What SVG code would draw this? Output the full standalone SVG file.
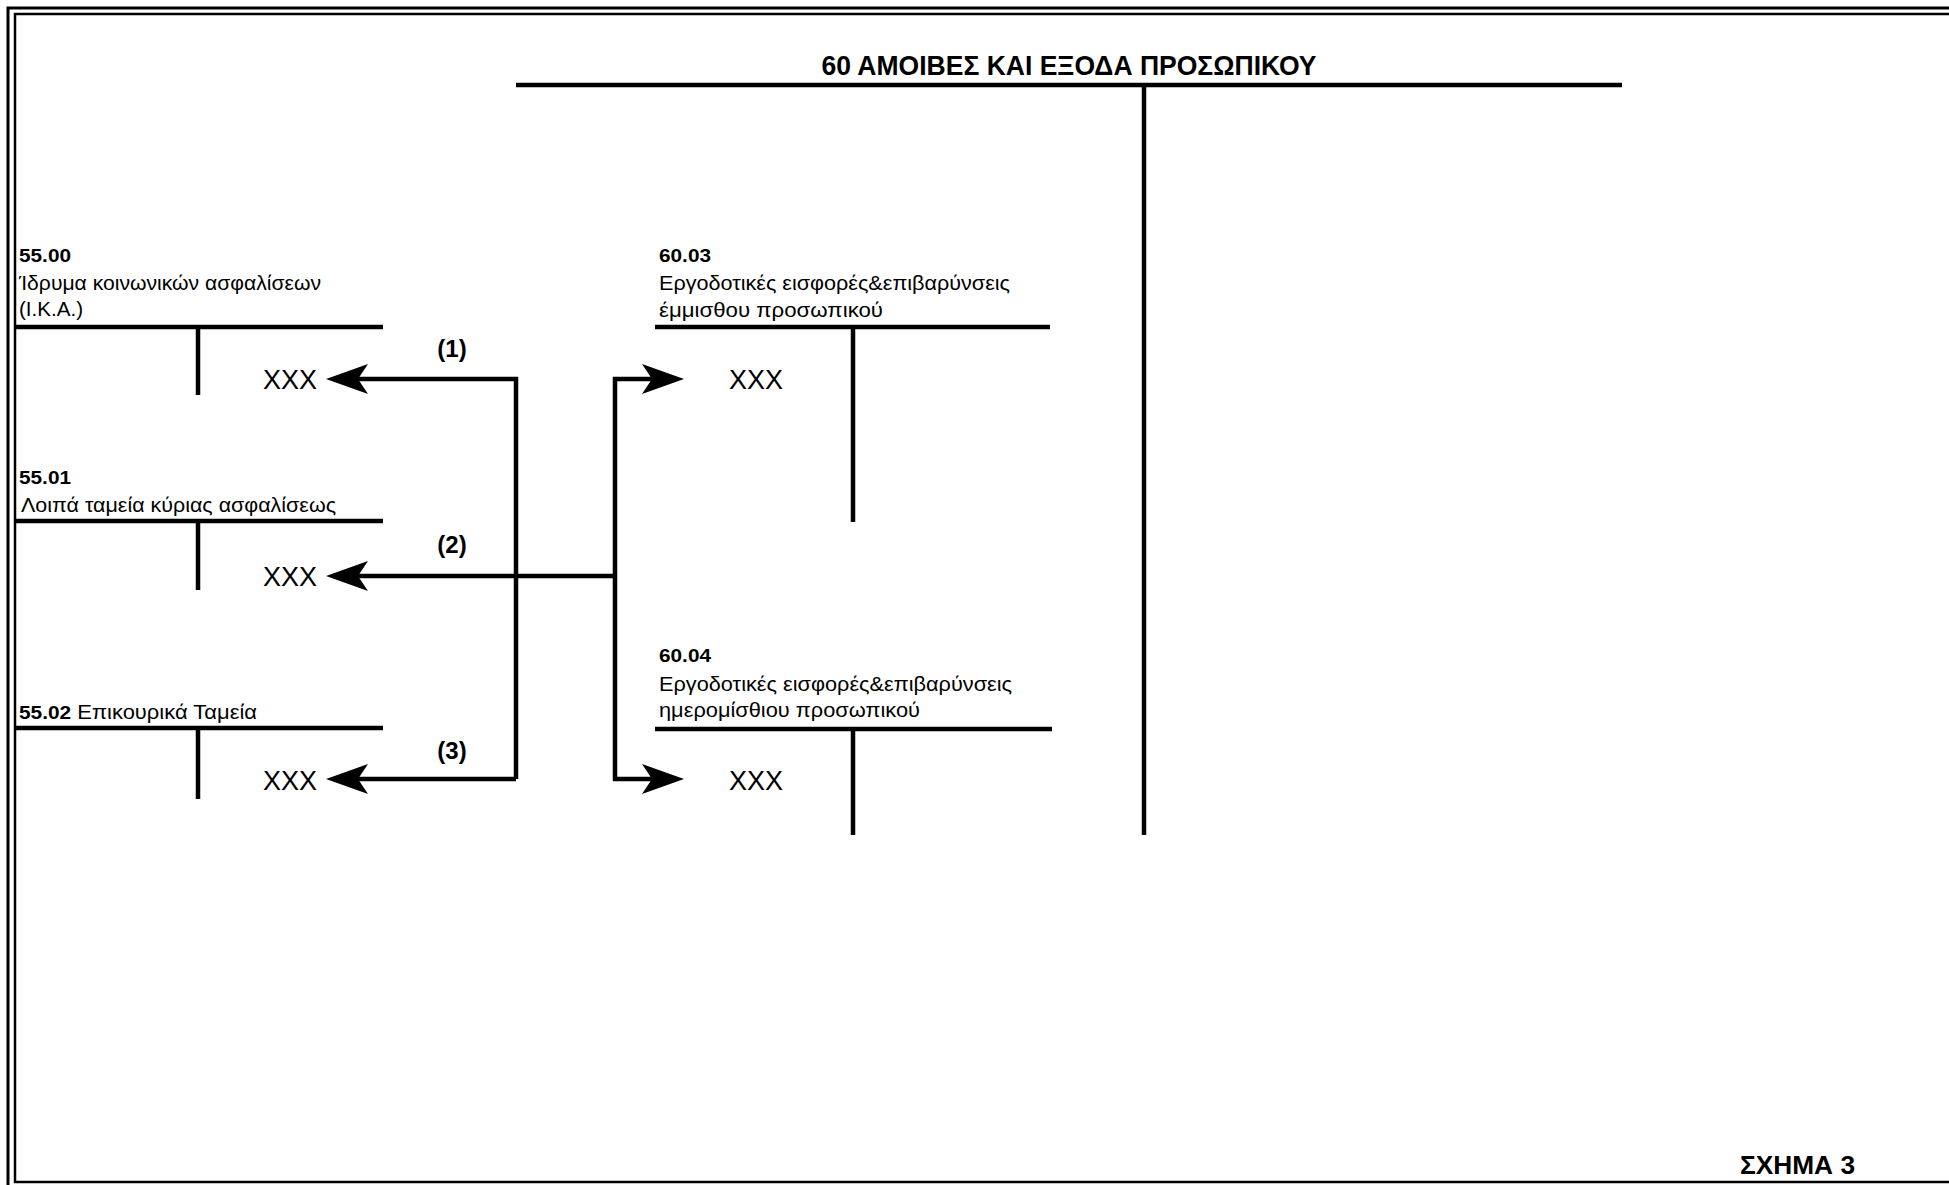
<svg xmlns="http://www.w3.org/2000/svg" width="1949" height="1185" viewBox="0 0 1949 1185">
<style>
.ln{stroke:#000;stroke-width:4.5;fill:none;stroke-linecap:butt;stroke-linejoin:miter}
.bd{stroke:#000;fill:none}
.t{font-family:"Liberation Sans",Arial,sans-serif;fill:#000}
.b{font-weight:bold}
.s{font-size:20px}
.n{font-size:19px;font-weight:bold}
.x{font-size:27px;text-anchor:middle}
.lab{font-size:24px;font-weight:bold;text-anchor:middle}
</style>
<defs>
<marker id="ah" viewBox="0 0 42 30" refX="17" refY="15" markerWidth="42" markerHeight="30" markerUnits="userSpaceOnUse" orient="auto">
<path d="M0,0 L42,15 L0,30 L10,15 Z" fill="#000"/>
</marker>
</defs>
<rect width="1949" height="1185" fill="#fff"/>
<g id="frame">
<path class="bd" stroke-width="3" d="M1949,8 L8,8 L8,1185"/>
<path class="bd" stroke-width="2.5" d="M1949,14 L15,14 L15,1182 L1949,1182"/>
</g>
<g id="account-60">
<text class="t b" x="1069" y="75" font-size="28" text-anchor="middle" textLength="495" lengthAdjust="spacingAndGlyphs">60 ΑΜΟΙΒΕΣ ΚΑΙ ΕΞΟΔΑ ΠΡΟΣΩΠΙΚΟΥ</text>
<path class="ln" d="M516,85 L1622,85 M1144,85 L1144,835"/>
</g>
<g id="account-55-00">
<text class="t n" x="19" y="262" textLength="52" lengthAdjust="spacingAndGlyphs">55.00</text>
<text class="t s" x="19" y="290" textLength="302" lengthAdjust="spacingAndGlyphs">Ίδρυμα κοινωνικών ασφαλίσεων</text>
<text class="t s" x="19" y="316" textLength="64" lengthAdjust="spacingAndGlyphs">(Ι.Κ.Α.)</text>
<path class="ln" d="M15,327 L383,327 M198,327 L198,395"/>
<text class="t x" x="290" y="389">XXX</text>
</g>
<g id="account-55-01">
<text class="t n" x="19" y="484" textLength="52" lengthAdjust="spacingAndGlyphs">55.01</text>
<text class="t s" x="21" y="512" textLength="315" lengthAdjust="spacingAndGlyphs">Λοιπά ταμεία κύριας ασφαλίσεως</text>
<path class="ln" d="M15,521 L383,521 M198,521 L198,590"/>
<text class="t x" x="290" y="586">XXX</text>
</g>
<g id="account-55-02">
<text class="t s" x="19" y="719" textLength="238" lengthAdjust="spacingAndGlyphs"><tspan font-weight="bold" font-size="19">55.02</tspan> Επικουρικά Ταμεία</text>
<path class="ln" d="M15,728 L383,728 M198,728 L198,799"/>
<text class="t x" x="290" y="790">XXX</text>
</g>
<g id="account-60-03">
<text class="t n" x="659" y="262" textLength="52" lengthAdjust="spacingAndGlyphs">60.03</text>
<text class="t s" x="659" y="290" textLength="351" lengthAdjust="spacingAndGlyphs">Εργοδοτικές εισφορές&amp;επιβαρύνσεις</text>
<text class="t s" x="659" y="317" textLength="224" lengthAdjust="spacingAndGlyphs">έμμισθου προσωπικού</text>
<path class="ln" d="M655,327 L1050,327 M853,327 L853,522"/>
<text class="t x" x="756" y="389">XXX</text>
</g>
<g id="account-60-04">
<text class="t n" x="659" y="662" textLength="52" lengthAdjust="spacingAndGlyphs">60.04</text>
<text class="t s" x="659" y="691" textLength="353" lengthAdjust="spacingAndGlyphs">Εργοδοτικές εισφορές&amp;επιβαρύνσεις</text>
<text class="t s" x="659" y="717" textLength="261" lengthAdjust="spacingAndGlyphs">ημερομίσθιου προσωπικού</text>
<path class="ln" d="M655,729 L1052,729 M853,729 L853,835"/>
<text class="t x" x="756" y="790">XXX</text>
</g>
<g id="connectors">
<path class="ln" d="M516,779 L516,379 L351,379" marker-end="url(#ah)"/>
<path class="ln" d="M516,779 L351,779" marker-end="url(#ah)"/>
<path class="ln" d="M615,576 L351,576" marker-end="url(#ah)"/>
<path class="ln" d="M615,576 L615,379 L659,379" marker-end="url(#ah)"/>
<path class="ln" d="M615,576 L615,779 L659,779" marker-end="url(#ah)"/>
<text class="t lab" x="452" y="357">(1)</text>
<text class="t lab" x="452" y="553">(2)</text>
<text class="t lab" x="452" y="759">(3)</text>
</g>
<text class="t b" x="1740" y="1174" font-size="26" textLength="115" lengthAdjust="spacingAndGlyphs">ΣΧΗΜΑ 3</text>
</svg>
